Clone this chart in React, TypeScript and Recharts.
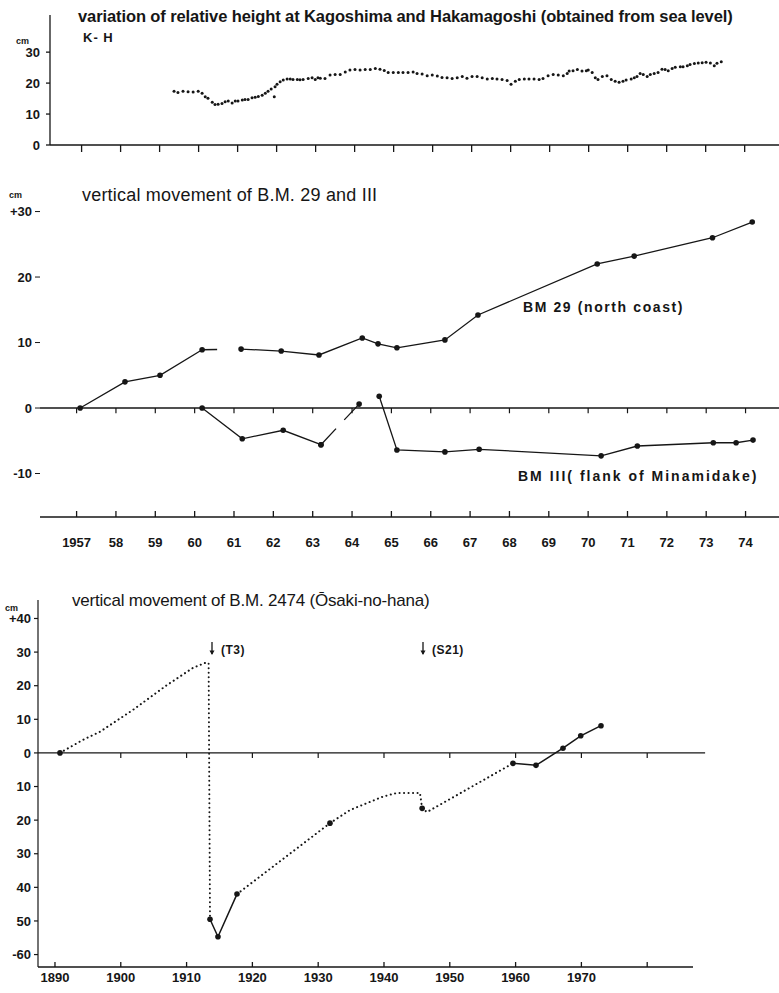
import { LineChart, Line, XAxis, YAxis, ReferenceLine } from "recharts";

// K-H : relative height Kagoshima - Hakamagoshi from tide records (cm)
const khYear = [
  1959.37, 1959.47, 1959.6, 1959.73, 1959.86, 1959.99, 1960.09, 1960.17, 1960.24, 1960.35,
  1960.42, 1960.5, 1960.6, 1960.68, 1960.76, 1960.86, 1960.94, 1961.01, 1961.12, 1961.19,
  1961.27, 1961.37, 1961.45, 1961.53, 1961.63, 1961.71, 1961.78, 1961.86, 1961.94, 1961.96,
  1962.01, 1962.09, 1962.17, 1962.27, 1962.35, 1962.42, 1962.53, 1962.6, 1962.68, 1962.81,
  1962.91, 1962.99, 1963.06, 1963.12, 1963.24, 1963.37, 1963.5, 1963.63, 1963.76, 1963.88,
  1964.01, 1964.14, 1964.27, 1964.4, 1964.53, 1964.65, 1964.76, 1964.86, 1964.99, 1965.12,
  1965.24, 1965.37, 1965.5, 1965.6, 1965.73, 1965.86, 1965.99, 1966.12, 1966.24, 1966.37,
  1966.5, 1966.63, 1966.76, 1966.88, 1967.01, 1967.14, 1967.27, 1967.4, 1967.53, 1967.65,
  1967.78, 1967.91, 1968.01, 1968.12, 1968.22, 1968.35, 1968.47, 1968.6, 1968.73, 1968.83,
  1968.96, 1969.09, 1969.22, 1969.35, 1969.45, 1969.5, 1969.6, 1969.71, 1969.83, 1969.94,
  1969.99, 1970.09, 1970.17, 1970.24, 1970.35, 1970.47, 1970.58, 1970.68, 1970.78, 1970.88,
  1970.96, 1971.09, 1971.17, 1971.24, 1971.32, 1971.4, 1971.5, 1971.58, 1971.68, 1971.78,
  1971.88, 1971.96, 1972.04, 1972.14, 1972.22, 1972.35, 1972.42, 1972.53, 1972.6, 1972.71,
  1972.81, 1972.91, 1973.01, 1973.12, 1973.22, 1973.29, 1973.4,
];
const khCm = [
  17.4, 17.0, 17.4, 17.2, 17.1, 17.4, 16.7, 15.6, 15.1, 13.8,
  13.1, 13.2, 13.4, 14.0, 14.2, 13.6, 14.2, 14.2, 14.5, 14.7,
  14.7, 15.3, 15.4, 15.7, 16.1, 16.7, 17.4, 18.1, 15.6, 18.8,
  19.6, 20.4, 21.0, 21.3, 21.3, 21.2, 21.2, 21.1, 21.2, 21.5,
  21.7, 21.2, 21.7, 21.6, 21.5, 22.6, 22.8, 22.8, 23.6, 24.2,
  24.4, 24.2, 24.4, 24.4, 24.7, 24.5, 24.1, 23.4, 23.4, 23.4,
  23.4, 23.4, 23.6, 23.1, 22.9, 22.4, 22.6, 22.3, 21.8, 21.7,
  21.5, 21.7, 22.1, 21.6, 22.1, 22.1, 21.7, 21.3, 21.5, 21.3,
  21.2, 20.8, 19.6, 20.6, 21.2, 21.3, 21.3, 21.3, 21.2, 21.5,
  22.4, 22.8, 22.6, 22.4, 23.1, 23.9, 24.0, 24.4, 23.9, 24.0,
  24.2, 23.4, 21.7, 21.2, 22.1, 22.4, 21.2, 20.6, 20.3, 20.6,
  21.0, 21.3, 21.7, 22.1, 23.1, 22.8, 22.1, 22.8, 23.1, 23.4,
  24.5, 24.4, 24.0, 24.7, 25.1, 25.3, 25.3, 25.6, 26.0, 26.3,
  26.5, 26.6, 26.7, 26.5, 25.6, 26.4, 26.9,
];

// B.M. 29 (north coast) and B.M. III (flank of Minamidake), cm
const bm29Year = [1957.09, 1958.23, 1959.12, 1960.19, 1961.18, 1962.2, 1963.16, 1964.26, 1964.66, 1965.14, 1966.36, 1967.2, 1970.23, 1971.17, 1973.16, 1974.17];
const bm29Cm = [0, 4.0, 5.0, 8.9, 9.0, 8.7, 8.1, 10.7, 9.8, 9.2, 10.4, 14.2, 22.0, 23.2, 26.0, 28.4];
const bm111Year = [1960.19, 1961.21, 1962.25, 1963.21, 1964.18, 1964.69, 1965.14, 1966.36, 1967.23, 1970.33, 1971.25, 1973.18, 1973.76, 1974.19];
const bm111Cm = [0, -4.7, -3.4, -5.6, 0.6, 1.8, -6.4, -6.7, -6.3, -7.3, -5.8, -5.3, -5.3, -4.9];

// B.M. 2474 (Osaki-no-hana), surveyed values, cm
const bm2474Year = [1890.76, 1913.56, 1914.77, 1917.66, 1931.79, 1945.8, 1959.6, 1963.1, 1967.2, 1969.9, 1972.98];
const bm2474Cm = [0, -49.5, -54.7, -42, -20.9, -16.5, -3.1, -3.7, 1.4, 5.1, 8.1];
// inferred course (dotted)
const preT3Year = [1890.76, 1894.26, 1896.84, 1901.85, 1907.02, 1910.97, 1913.1, 1913.35, 1913.56];
const preT3Cm = [0, 3.9, 6.3, 12.8, 20.2, 25.3, 27.0, 26.6, -49.5];
const postT3Year = [1917.66, 1931.79, 1934.83, 1939.85, 1941.98, 1945.47, 1945.8, 1946.53, 1959.6];
const postT3Cm = [-42, -20.9, -17.0, -13.0, -11.9, -11.9, -16.5, -17.6, -3.1];

const yearTicks = [1957, 1958, 1959, 1960, 1961, 1962, 1963, 1964, 1965, 1966, 1967, 1968, 1969, 1970, 1971, 1972, 1973, 1974];
const decadeTicks = [1890, 1900, 1910, 1920, 1930, 1940, 1950, 1960, 1970, 1980];
const khTicks = [0, 10, 20, 30];
const bmTicks = [-10, 0, 10, 20, 30];
const bm2474Ticks = [-60, -50, -40, -30, -20, -10, 0, 10, 20, 30, 40];

const INK = "#161616";
const FONT = "'Liberation Sans', Arial, sans-serif";
const tickStyle = { fill: INK, fontSize: 13, fontWeight: 700, fontFamily: FONT };

const pts = (xs: number[], ys: number[], from = 0, to = xs.length - 1) =>
  xs.slice(from, to + 1).map((x, i) => ({ x, v: ys[from + i] }));

const bigDot = { r: 2.8, fill: INK, stroke: "none" };
const dotted = { strokeDasharray: "0.1 4.4", strokeLinecap: "round" as const, strokeWidth: 2 };

function Txt({ x, y, size, bold, children, spacing }: any) {
  return (
    <div
      style={{
        position: "absolute",
        left: x,
        top: y,
        fontSize: size,
        fontWeight: bold ? 700 : 400,
        letterSpacing: spacing ?? 0,
        lineHeight: 1,
        whiteSpace: "nowrap",
        color: INK,
        fontFamily: FONT,
      }}
    >
      {children}
    </div>
  );
}

// small down arrow marking an event
function Arrow({ x, y }: { x: number; y: number }) {
  return (
    <svg style={{ position: "absolute", left: x - 4, top: y }} width={8} height={14}>
      <line x1={4} y1={0} x2={4} y2={12} stroke={INK} strokeWidth={1.3} />
      <path d="M1.5 8.5 L4 13 L6.5 8.5 Z" fill={INK} />
    </svg>
  );
}

export default function App() {
  const kh = pts(khYear, khCm);
  return (
    <div style={{ position: "absolute", left: 0, top: 0, width: 779, height: 993, background: "#fff", overflow: "hidden" }}>
      {/* panel 1 */}
      <div style={{ position: "absolute", left: 0, top: 0 }}>
        <LineChart width={779} height={165} margin={{ top: 15, right: 0, bottom: 0, left: 0 }}>
          <XAxis dataKey="x" type="number" domain={[1956.19, 1974.88]} allowDataOverflow ticks={yearTicks} interval={0}
            height={20} tickSize={7} tickFormatter={() => ""} stroke={INK} strokeWidth={1.3} />
          <YAxis type="number" domain={[0, 42]} allowDataOverflow ticks={khTicks} interval={0} width={50}
            tickSize={4} tickMargin={6} stroke={INK} strokeWidth={1.3} tick={tickStyle} />
          <Line data={kh} dataKey="v" stroke="none" isAnimationActive={false}
            dot={{ r: 1.5, fill: INK, stroke: "none" }} />
        </LineChart>
      </div>
      <Txt x={78} y={8} size={16.5} bold spacing={-0.1}>
        variation of relative height at Kagoshima and Hakamagoshi (obtained from sea level)
      </Txt>
      <Txt x={83} y={31} size={13} bold spacing={1}>K- H</Txt>
      <Txt x={16} y={37} size={9} bold>cm</Txt>

      {/* panel 2 */}
      <div style={{ position: "absolute", left: 0, top: 180 }}>
        <LineChart width={779} height={380} margin={{ top: 25, right: 0, bottom: 0, left: 0 }}>
          <XAxis dataKey="x" type="number" domain={[1956.07, 1974.85]} allowDataOverflow ticks={yearTicks} interval={0}
            height={43} tickSize={-6} tickMargin={27} stroke={INK} strokeWidth={1.3} tick={tickStyle}
            tickFormatter={(v: number) => (v === 1957 ? "1957" : String(v).slice(2))} />
          <YAxis type="number" domain={[-16.64, 31]} allowDataOverflow ticks={bmTicks} interval={0} width={40}
            axisLine={false} tickSize={5} tickMargin={3} stroke={INK} tick={tickStyle}
            tickFormatter={(v: number) => (v === 30 ? "+30" : String(v))} />
          <ReferenceLine y={0} stroke={INK} strokeWidth={1.3} />
          {yearTicks.map((t) => (
            <ReferenceLine key={t} segment={[{ x: t, y: 0 }, { x: t, y: -0.8 }]} stroke={INK} strokeWidth={1.2} />
          ))}
          <Line data={pts(bm29Year, bm29Cm, 0, 3)} dataKey="v" stroke={INK} strokeWidth={1.3} dot={bigDot} isAnimationActive={false} />
          <Line data={pts(bm29Year, bm29Cm, 3, 4)} dataKey="v" stroke={INK} strokeWidth={1.3} strokeDasharray="15 40" dot={false} isAnimationActive={false} />
          <Line data={pts(bm29Year, bm29Cm, 4)} dataKey="v" stroke={INK} strokeWidth={1.3} dot={bigDot} isAnimationActive={false} />
          <Line data={pts(bm111Year, bm111Cm, 0, 3)} dataKey="v" stroke={INK} strokeWidth={1.3} dot={bigDot} isAnimationActive={false} />
          <Line data={pts(bm111Year, bm111Cm, 3, 4)} dataKey="v" stroke={INK} strokeWidth={1.3} strokeDasharray="22 12 40" dot={bigDot} isAnimationActive={false} />
          <Line data={pts(bm111Year, bm111Cm, 5)} dataKey="v" stroke={INK} strokeWidth={1.3} dot={bigDot} isAnimationActive={false} />
        </LineChart>
      </div>
      <Txt x={82} y={186} size={18} spacing={0.2}>vertical movement of B.M. 29 and III</Txt>
      <Txt x={9} y={191} size={9} bold>cm</Txt>
      <Txt x={523} y={300} size={14} bold spacing={1.6}>BM 29 (north coast)</Txt>
      <Txt x={518} y={469} size={14} bold spacing={2}>BM III( flank of Minamidake)</Txt>

      {/* panel 3 */}
      <div style={{ position: "absolute", left: 0, top: 590 }}>
        <LineChart width={779} height={403} margin={{ top: 10, right: 86, bottom: 0, left: 0 }}>
          <XAxis dataKey="x" type="number" domain={[1887.42, 1986.96]} allowDataOverflow ticks={decadeTicks} interval={0}
            height={26} tickSize={-5} tickMargin={11} stroke={INK} strokeWidth={1.3} tick={tickStyle}
            tickFormatter={(v: number) => (v === 1980 ? "" : String(v))} />
          <YAxis type="number" domain={[-63.7, 45.5]} allowDataOverflow ticks={bm2474Ticks} interval={0} width={38}
            tickSize={4} tickMargin={3} stroke={INK} strokeWidth={1.2} tick={tickStyle}
            tickFormatter={(v: number) => (v === 40 ? "+40" : v === -60 ? "-60" : String(Math.abs(v)))} />
          <ReferenceLine segment={[{ x: 1887.42, y: 0 }, { x: 1988.8, y: 0 }]} ifOverflow="visible" stroke={INK} strokeWidth={1.3} />
          {decadeTicks.slice(1).map((t) => (
            <ReferenceLine key={t} segment={[{ x: t, y: 0 }, { x: t, y: -1.5 }]} stroke={INK} strokeWidth={1.2} />
          ))}
          <Line data={pts(preT3Year, preT3Cm)} dataKey="v" stroke={INK} {...dotted} dot={false} isAnimationActive={false} />
          <Line data={pts(postT3Year, postT3Cm)} dataKey="v" stroke={INK} {...dotted} dot={false} isAnimationActive={false} />
          <Line data={pts(bm2474Year, bm2474Cm, 1, 3)} dataKey="v" stroke={INK} strokeWidth={1.5} dot={bigDot} isAnimationActive={false} />
          <Line data={pts(bm2474Year, bm2474Cm, 6)} dataKey="v" stroke={INK} strokeWidth={1.5} dot={bigDot} isAnimationActive={false} />
          <Line data={pts(bm2474Year, bm2474Cm, 0, 0).concat(pts(bm2474Year, bm2474Cm, 4, 5))} dataKey="v" stroke="none" dot={bigDot} isAnimationActive={false} />
        </LineChart>
      </div>
      <Txt x={72} y={592} size={17} spacing={-0.2}>vertical movement of B.M. 2474 (Ōsaki-no-hana)</Txt>
      <Txt x={5} y={604} size={9} bold>cm</Txt>
      <Arrow x={212} y={642} />
      <Txt x={221} y={644} size={12} bold spacing={0.5}>(T3)</Txt>
      <Arrow x={423} y={642} />
      <Txt x={432} y={644} size={12} bold spacing={0.5}>(S21)</Txt>
    </div>
  );
}
